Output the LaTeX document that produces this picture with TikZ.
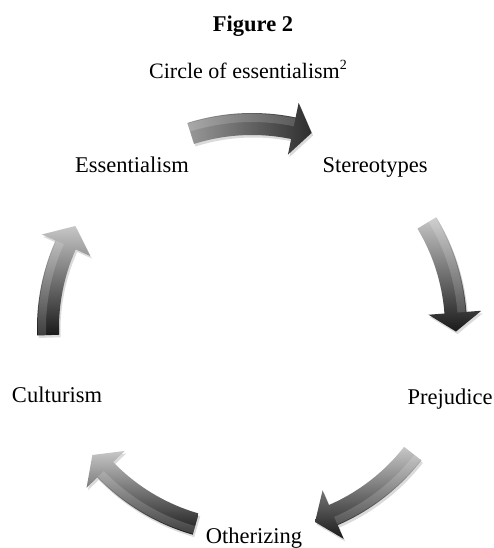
\documentclass[tikz,border=0pt]{standalone}
\usepackage{fontspec}
\setmainfont{Liberation Serif}
\usetikzlibrary{calc}
\tikzset{
  lab/.style={font=\fontsize{22.5}{27}\selectfont, inner sep=0pt, anchor=base},
  ttl/.style={font=\fontsize{22.5}{27}\selectfont\bfseries, inner sep=0pt, anchor=base},
  captxt/.style={font=\fontsize{22}{27}\selectfont, inner sep=0pt, anchor=base},
  arrowshadow/.style={fill=black, opacity=0.14},
  vshade/.style={top color=black!22, bottom color=black!90},
  hshade/.style={left color=black!40, right color=black!82},
  gloss/.style={fill=white, opacity=0.16}
}
% arrow outline: tail angle, head-base angle, tip angle
\newcommand{\arrowoutline}[3]{(#1:215pt) arc[start angle=#1, end angle=#2, radius=215pt] -- (#2:230pt) -- (#3:204pt) -- (#2:177pt) -- (#2:193pt) arc[start angle=#2, end angle=#1, radius=193pt] -- cycle}
\newcommand{\glossband}[2]{(#1:214pt) arc[start angle=#1, end angle=#2, radius=214pt] -- (#2:206pt) arc[start angle=#2, end angle=#1, radius=206pt] -- cycle}
\newcommand{\cyclearrow}[4]{%
  \fill[arrowshadow, shift={(1.5pt,-2.5pt)}] \arrowoutline{#1}{#2}{#3};
  \shade[#4] \arrowoutline{#1}{#2}{#3};
  \fill[gloss] \glossband{#1}{#2};
}
\begin{document}
\begin{tikzpicture}[x=1pt,y=1pt]
\useasboundingbox (0,0) rectangle (493,548);
\fill[white] (0,0) rectangle (493,548);
% titles
\node[ttl] (fig) at (253,516) {Figure 2};
\node[captxt] (caption) at (248,469) {Circle of essentialism\raisebox{0.45em}{\fontsize{14}{14}\selectfont 2}};
% centre of the cycle
\coordinate (c) at (252,220);
\begin{scope}[shift={(c)}]
  \cyclearrow{107.5}{78.3}{73}{hshade}
  \cyclearrow{31}{4.3}{-1}{vshade}
  \cyclearrow{-38}{-66.5}{-72}{vshade}
  \cyclearrow{-106}{-136}{-141.5}{vshade}
  \cyclearrow{182}{156}{150}{vshade}
\end{scope}
% labels
\node[lab] (ess) at (132,375) {Essentialism};
\node[lab] (ste) at (375,375) {Stereotypes};
\node[lab] (pre) at (450,143) {Prejudice};
\node[lab] (oth) at (254,5) {Otherizing};
\node[lab] (cul) at (57,145) {Culturism};
\end{tikzpicture}
\end{document}
